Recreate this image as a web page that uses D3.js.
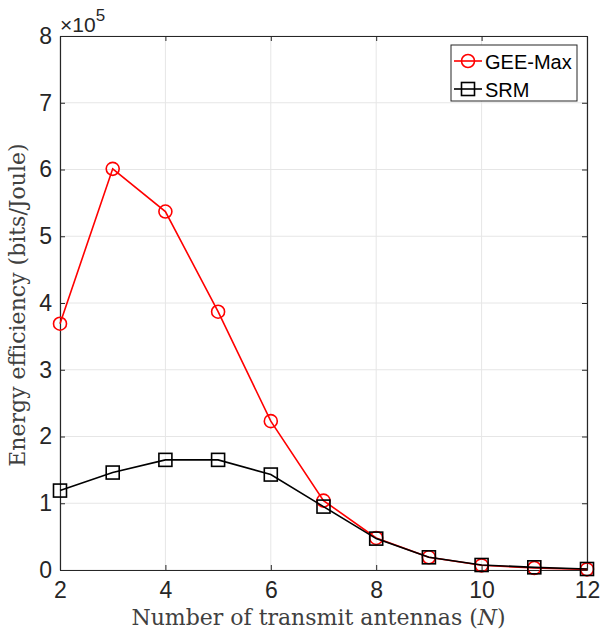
<!DOCTYPE html>
<html>
<head>
<meta charset="utf-8">
<script src="https://cdn.jsdelivr.net/npm/d3@7"></script>
<style>
  body { margin: 0; background: #fff; }
</style>
</head>
<body>
<div id="chart"></div>
<script>
// values (energy efficiency in units of 1e5 bits/Joule)
const antennas = [2, 3, 4, 5, 6, 7, 8, 9, 10, 11, 12];
const geeMax = [3.69, 6.01, 5.37, 3.87, 2.23, 1.04, 0.48, 0.19, 0.07, 0.03, 0.01];
const srm = [1.19, 1.46, 1.65, 1.65, 1.43, 0.95, 0.47, 0.19, 0.075, 0.04, 0.015];
const xTicks = [2, 4, 6, 8, 10, 12];
const yTicks = [0, 1, 2, 3, 4, 5, 6, 7, 8];

const W = 600, H = 633;
const margin = { top: 36, right: 13, bottom: 63, left: 60 };
const width = W - margin.left - margin.right;
const height = H - margin.top - margin.bottom;
const axisColor = "#262626";
const sans = "'Liberation Sans', Arial, sans-serif";
const serif = "'DejaVu Serif', serif";

let svg = d3.select("#chart")
  .append("svg")
  .attr("width", W)
  .attr("height", H);

let g = svg.append("g")
  .attr("transform", "translate(" + margin.left + "," + margin.top + ")");

let x = d3.scaleLinear().domain([2, 12]).range([0, width]);
let y = d3.scaleLinear().domain([0, 8]).range([height, 0]);

// grid
g.append("g")
  .selectAll("line")
  .data(xTicks)
  .enter()
  .append("line")
  .attr("x1", d => x(d)).attr("x2", d => x(d))
  .attr("y1", 0).attr("y2", height)
  .attr("stroke", "#e6e6e6");
g.append("g")
  .selectAll("line")
  .data(yTicks)
  .enter()
  .append("line")
  .attr("x1", 0).attr("x2", width)
  .attr("y1", d => y(d)).attr("y2", d => y(d))
  .attr("stroke", "#e6e6e6");

// axes, ticks pointing inward like MATLAB
function styleAxis(sel) {
  sel.attr("font-size", null).attr("font-family", null);
  sel.selectAll("path").attr("stroke", axisColor);
  sel.selectAll("line").attr("stroke", axisColor);
  sel.selectAll("text")
    .attr("fill", axisColor)
    .attr("font-family", sans)
    .attr("font-size", 23);
}

g.append("g")
  .attr("transform", "translate(0," + height + ")")
  .call(d3.axisBottom(x).tickValues(xTicks).tickSizeInner(-5).tickSizeOuter(0).tickPadding(12))
  .call(styleAxis);
g.append("g")
  .call(d3.axisLeft(y).tickValues(yTicks).tickSizeInner(-5).tickSizeOuter(0).tickPadding(8))
  .call(styleAxis);
g.append("g")
  .call(d3.axisTop(x).tickValues(xTicks).tickSizeInner(-5).tickSizeOuter(0).tickFormat(""))
  .call(styleAxis);
g.append("g")
  .attr("transform", "translate(" + width + ",0)")
  .call(d3.axisRight(y).tickValues(yTicks).tickSizeInner(-5).tickSizeOuter(0).tickFormat(""))
  .call(styleAxis);

g.selectAll(".domain").attr("stroke-width", 1.2);

// exponent label
let expo = svg.append("text")
  .attr("x", margin.left)
  .attr("y", 32)
  .attr("fill", axisColor)
  .attr("font-family", sans)
  .attr("font-size", 21);
expo.append("tspan").text("×10");
expo.append("tspan").attr("dy", -11).attr("font-size", 17).text("5");

// series
let line = d3.line()
  .x((d, i) => x(antennas[i]))
  .y(d => y(d));

g.append("path")
  .datum(geeMax)
  .attr("fill", "none")
  .attr("stroke", "#ff0000")
  .attr("stroke-width", 1.6)
  .attr("d", line);
g.selectAll(".gee")
  .data(geeMax)
  .enter()
  .append("circle")
  .attr("class", "gee")
  .attr("cx", (d, i) => x(antennas[i]))
  .attr("cy", d => y(d))
  .attr("r", 6.5)
  .attr("fill", "none")
  .attr("stroke", "#ff0000")
  .attr("stroke-width", 1.6);

g.append("path")
  .datum(srm)
  .attr("fill", "none")
  .attr("stroke", "#000")
  .attr("stroke-width", 1.6)
  .attr("d", line);
g.selectAll(".srm")
  .data(srm)
  .enter()
  .append("rect")
  .attr("class", "srm")
  .attr("x", (d, i) => x(antennas[i]) - 6.5)
  .attr("y", d => y(d) - 6.5)
  .attr("width", 13)
  .attr("height", 13)
  .attr("fill", "none")
  .attr("stroke", "#000")
  .attr("stroke-width", 1.6);

// legend
let legend = svg.append("g").attr("transform", "translate(451,45)");
legend.append("rect")
  .attr("width", 126).attr("height", 56)
  .attr("fill", "#fff")
  .attr("stroke", axisColor)
  .attr("stroke-width", 1);
const entries = [
  { name: "GEE-Max", color: "#ff0000", shape: "circle" },
  { name: "SRM", color: "#000", shape: "square" }
];
entries.forEach((e, i) => {
  let row = legend.append("g").attr("transform", "translate(0," + (16 + i * 28) + ")");
  row.append("line")
    .attr("x1", 3).attr("x2", 31)
    .attr("stroke", e.color).attr("stroke-width", 1.6);
  if (e.shape === "circle") {
    row.append("circle").attr("cx", 17).attr("r", 6.5)
      .attr("fill", "none").attr("stroke", e.color).attr("stroke-width", 1.6);
  } else {
    row.append("rect").attr("x", 10.5).attr("y", -6.5).attr("width", 13).attr("height", 13)
      .attr("fill", "none").attr("stroke", e.color).attr("stroke-width", 1.6);
  }
  row.append("text")
    .attr("x", 34).attr("y", 7.5)
    .attr("fill", "#000")
    .attr("font-family", sans)
    .attr("font-size", 20)
    .text(e.name);
});

// axis labels
svg.append("text")
  .attr("x", margin.left + width / 2 - 5)
  .attr("y", 625)
  .attr("text-anchor", "middle")
  .attr("fill", "#404040")
  .attr("font-family", serif)
  .attr("font-size", 22)
  .html("Number of transmit antennas (<tspan font-style='italic'>N</tspan>)");

svg.append("text")
  .attr("transform", "translate(25," + (margin.top + height / 2 + 2) + ") rotate(-90)")
  .attr("text-anchor", "middle")
  .attr("fill", "#404040")
  .attr("font-family", serif)
  .attr("font-size", 22)
  .text("Energy efficiency (bits/Joule)");
</script>
</body>
</html>
